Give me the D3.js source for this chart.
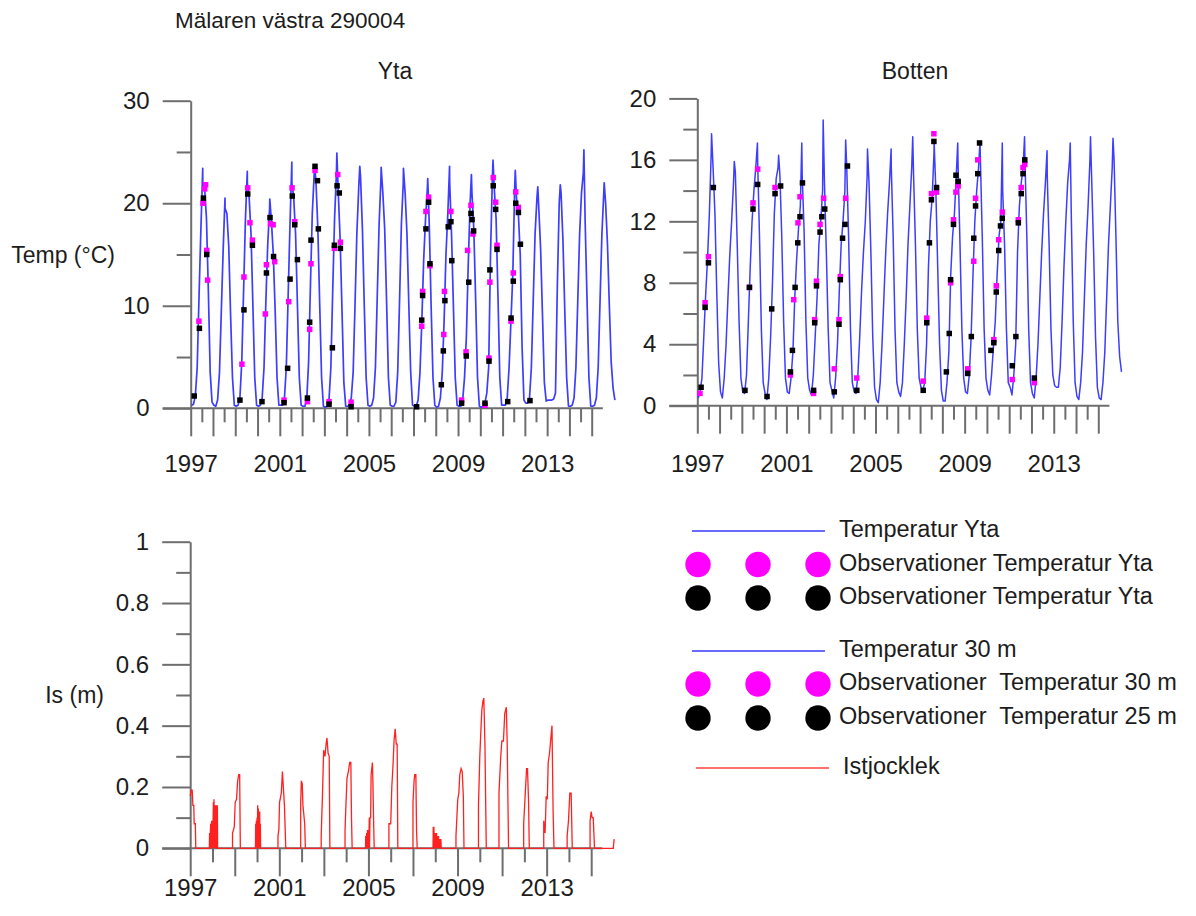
<!DOCTYPE html>
<html>
<head>
<meta charset="utf-8">
<script src="https://cdn.jsdelivr.net/npm/d3@7"></script>
<style>
  body { margin: 0; background: #fff; }
  text { font-family: "Liberation Sans", Arial, Helvetica, sans-serif; fill: #1c1c1c; }
  .axis path, .axis line { stroke: #6e6e6e; stroke-width: 2; }
</style>
</head>
<body>
<svg id="chart" width="1196" height="916"></svg>
<script>
// ---- calendar ----
const years = [1997, 1998, 1999, 2000, 2001, 2002, 2003, 2004, 2005, 2006,
               2007, 2008, 2009, 2010, 2011, 2012, 2013, 2014, 2015];
// mid-month positions as fraction of a year
const monthFrac = [0.042, 0.125, 0.208, 0.292, 0.375, 0.458, 0.542, 0.625, 0.708, 0.792, 0.875, 0.958];
const labelYears = [1997, 2001, 2005, 2009, 2013];

// ---- modelled surface temperature (°C), monthly values per year ----
const ytaMonthly = [
  [0.3, 0.4, 1.2, 4.0, 11.0, 17.5, 22.0, 21.5, 18.5, 11.5, 3.5, 0.6],
  [0.3, 0.2, 0.8, 3.5, 9.5, 15.5, 19.5, 19.0, 15.8, 9.0, 3.0, 0.3],
  [0.2, 0.3, 1.0, 4.5, 11.5, 18.5, 22.0, 20.5, 17.0, 10.0, 3.0, 0.3],
  [0.2, 0.3, 1.0, 4.0, 10.5, 16.0, 19.5, 18.2, 15.0, 9.5, 3.0, 0.3],
  [0.3, 0.3, 1.0, 4.0, 11.0, 18.0, 22.0, 20.5, 17.0, 10.0, 3.0, 0.3],
  [0.2, 0.2, 0.8, 4.5, 12.0, 19.0, 22.8, 22.0, 17.5, 10.0, 3.0, 0.2],
  [0.1, 0.2, 0.8, 4.0, 11.5, 18.5, 23.0, 21.0, 16.5, 9.5, 2.5, 0.2],
  [0.2, 0.3, 1.0, 3.5, 10.0, 17.0, 21.5, 22.5, 17.5, 10.0, 3.0, 0.3],
  [0.2, 0.3, 1.0, 4.0, 11.0, 18.0, 22.5, 21.0, 17.5, 10.5, 3.0, 0.3],
  [0.2, 0.2, 0.6, 3.5, 10.5, 18.0, 22.0, 21.0, 17.0, 10.0, 3.5, 0.3],
  [0.2, 0.2, 0.8, 3.5, 8.5, 14.5, 18.5, 21.5, 18.0, 10.0, 3.0, 0.3],
  [0.1, 0.2, 1.0, 3.5, 8.5, 15.0, 19.0, 22.0, 17.0, 10.0, 3.0, 0.3],
  [0.2, 0.2, 0.8, 3.0, 7.0, 14.0, 20.0, 21.0, 17.5, 10.5, 3.0, 0.2],
  [0.1, 0.2, 0.5, 1.5, 4.0, 15.0, 22.5, 21.5, 18.5, 11.0, 3.0, 0.3],
  [0.3, 0.3, 1.0, 4.0, 8.5, 13.0, 21.5, 20.5, 19.0, 15.0, 6.0, 0.8],
  [0.5, 0.5, 1.0, 4.0, 10.5, 17.0, 20.5, 19.5, 15.5, 9.0, 2.5, 0.7],
  [0.8, 0.8, 0.8, 0.9, 1.5, 12.0, 20.0, 21.0, 16.5, 9.5, 3.0, 0.2],
  [0.2, 0.3, 1.0, 4.0, 10.5, 17.0, 21.0, 23.0, 18.0, 10.5, 3.0, 0.2],
  [0.2, 0.3, 1.0, 4.0, 10.5, 17.0, 21.0, 20.0, 16.0, 10.0, 4.5, 2.0]
];
// summer maximum of each year: time within the year and value
const ytaPeakFrac = [0.54, 0.54, 0.54, 0.55, 0.54, 0.57, 0.56, 0.59, 0.55, 0.55,
                     0.64, 0.62, 0.60, 0.57, 0.57, 0.58, 0.59, 0.65, 0.56];
const ytaPeak = [23.4, 20.5, 23.1, 20.4, 24.0, 23.6, 24.9, 23.6, 23.5, 23.4,
                 22.4, 23.6, 22.8, 24.2, 23.2, 21.6, 21.8, 25.2, 22.0];
const ytaLastJan2016 = 0.8;

// ---- modelled bottom temperature (°C) ----
const bottenMonthly = [
  [0.5, 0.9, 1.8, 4.5, 7.2, 9.5, 12.5, 16.5, 15.5, 12.5, 7.3, 2.8],
  [0.9, 0.5, 1.8, 4.0, 7.0, 9.8, 12.0, 14.5, 15.2, 10.5, 5.5, 1.8],
  [0.9, 0.8, 2.0, 5.5, 9.0, 12.0, 14.0, 15.5, 16.0, 11.0, 5.0, 1.5],
  [0.8, 0.4, 1.8, 4.5, 8.0, 12.5, 14.8, 15.5, 15.0, 11.0, 5.5, 1.8],
  [0.9, 0.8, 1.8, 3.5, 7.0, 9.5, 11.5, 13.0, 15.0, 11.5, 5.5, 1.8],
  [1.0, 0.7, 2.0, 4.5, 7.0, 10.5, 12.0, 14.0, 14.5, 10.0, 5.0, 1.5],
  [1.0, 0.5, 1.8, 4.0, 7.5, 10.5, 12.0, 14.0, 15.5, 11.0, 5.0, 1.5],
  [0.9, 0.8, 2.0, 4.5, 7.5, 10.0, 12.0, 15.0, 14.5, 10.0, 4.5, 1.2],
  [0.4, 0.2, 1.5, 4.0, 7.0, 10.0, 12.5, 14.5, 15.5, 11.0, 5.0, 1.5],
  [0.9, 0.6, 1.5, 4.0, 7.0, 10.5, 13.0, 15.5, 15.0, 10.5, 5.0, 1.8],
  [1.2, 1.0, 1.5, 4.0, 9.0, 12.0, 13.5, 16.5, 14.0, 9.0, 4.0, 1.0],
  [0.3, 0.3, 1.5, 3.5, 8.5, 11.0, 12.5, 15.0, 15.5, 10.5, 5.0, 1.8],
  [0.9, 0.8, 2.0, 4.5, 8.5, 12.0, 14.0, 15.5, 16.0, 11.0, 5.0, 1.8],
  [1.0, 0.7, 2.0, 3.8, 5.5, 8.5, 11.0, 12.0, 14.0, 10.5, 5.0, 1.5],
  [1.2, 0.7, 2.0, 4.0, 10.0, 13.0, 14.5, 15.5, 16.0, 11.0, 5.0, 1.5],
  [0.8, 0.5, 1.8, 4.0, 7.0, 10.0, 12.5, 14.5, 15.0, 10.5, 5.0, 2.0],
  [1.3, 1.2, 1.2, 2.5, 5.5, 9.0, 12.0, 14.5, 16.0, 12.0, 5.5, 1.5],
  [0.6, 0.4, 1.5, 3.5, 7.0, 10.5, 13.0, 16.0, 14.5, 10.0, 4.5, 1.2],
  [0.5, 0.4, 1.5, 3.5, 7.0, 10.5, 13.0, 15.5, 16.0, 11.0, 5.5, 3.2]
];
const bottenPeakFrac = [0.64, 0.66, 0.70, 0.65, 0.69, 0.65, 0.66, 0.64, 0.70, 0.67,
                        0.63, 0.69, 0.69, 0.69, 0.69, 0.70, 0.74, 0.65, 0.66];
const bottenPeak = [17.7, 15.9, 17.1, 16.3, 17.1, 18.6, 17.3, 16.7, 16.7, 17.5,
                    17.2, 17.1, 17.2, 17.1, 17.5, 16.6, 17.1, 17.5, 17.4];
const bottenLastJan2016 = 2.2;

// ---- observations, surface [decimal year, °C] ----
const ytaObsA = [
  [1997.37, 8.5], [1997.55, 20.0], [1997.63, 21.4], [1997.67, 21.8], [1997.72, 15.4], [1997.76, 12.5],
  [1999.30, 4.3], [1999.39, 12.8], [1999.56, 21.5], [1999.66, 18.1], [1999.77, 16.4],
  [2000.35, 9.2], [2000.40, 14.0], [2000.58, 18.0], [2000.70, 17.9], [2000.77, 14.3],
  [2001.19, 0.8], [2001.40, 10.4], [2001.55, 21.5], [2001.67, 18.2],
  [2002.24, 0.65], [2002.34, 7.7], [2002.40, 14.1], [2002.58, 23.2],
  [2003.21, 0.65], [2003.45, 15.6], [2003.60, 22.8], [2003.72, 16.2],
  [2004.20, 0.6],
  [2007.37, 8.0], [2007.41, 11.4], [2007.56, 19.2], [2007.68, 20.6], [2007.74, 13.9],
  [2008.36, 7.2], [2008.39, 11.4], [2008.68, 19.2],
  [2009.16, 0.8], [2009.36, 5.5], [2009.43, 15.4], [2009.58, 19.8], [2009.67, 17.0],
  [2010.21, 0.3], [2010.39, 4.9], [2010.43, 12.3], [2010.58, 22.5], [2010.69, 20.1], [2010.75, 15.9],
  [2011.38, 8.5], [2011.48, 13.2], [2011.59, 21.1], [2011.71, 19.6]
];
const ytaObsB = [
  [1997.16, 1.2], [1997.39, 7.8], [1997.57, 20.5], [1997.72, 15.0],
  [1999.21, 0.8], [1999.39, 9.6], [1999.56, 20.9], [1999.77, 15.9],
  [2000.20, 0.65], [2000.40, 13.2], [2000.56, 18.6], [2000.72, 14.8],
  [2001.19, 0.55], [2001.35, 3.9], [2001.46, 12.6], [2001.56, 20.7], [2001.67, 17.9], [2001.79, 14.5],
  [2002.24, 1.0], [2002.34, 8.4], [2002.40, 16.4], [2002.58, 23.6], [2002.69, 22.2], [2002.73, 17.5],
  [2003.21, 0.4], [2003.36, 5.9], [2003.45, 15.9], [2003.57, 21.7], [2003.67, 21.0], [2003.72, 15.6],
  [2004.20, 0.15],
  [2007.14, 0.15], [2007.37, 8.6], [2007.41, 11.0], [2007.56, 17.5], [2007.68, 20.1], [2007.74, 14.1],
  [2008.25, 2.3], [2008.34, 5.6], [2008.41, 10.5], [2008.56, 17.7], [2008.68, 18.2], [2008.72, 14.4],
  [2009.16, 0.5], [2009.37, 5.1], [2009.48, 12.3], [2009.58, 19.0], [2009.63, 18.4], [2009.70, 17.3],
  [2010.21, 0.5], [2010.39, 4.6], [2010.43, 13.5], [2010.58, 21.7], [2010.69, 19.4], [2010.75, 15.5],
  [2011.23, 0.65], [2011.38, 8.8], [2011.48, 12.4], [2011.59, 20.0], [2011.71, 19.1], [2011.80, 16.0],
  [2012.23, 0.75]
];

// ---- observations, 30 m and 25 m [decimal year, °C] ----
const bottenObsA = [
  [1997.12, 0.8], [1997.35, 6.7], [1997.50, 9.7],
  [1999.34, 7.7], [1999.50, 13.2], [1999.71, 15.4],
  [2000.49, 14.2],
  [2001.18, 2.0], [2001.33, 6.9], [2001.52, 11.9], [2001.61, 13.6],
  [2002.22, 0.8], [2002.27, 5.6], [2002.35, 8.1], [2002.51, 11.8], [2002.67, 13.5],
  [2003.15, 2.4], [2003.36, 5.6], [2003.42, 8.4], [2003.66, 13.5],
  [2004.16, 1.8],
  [2007.14, 1.6], [2007.30, 5.7], [2007.51, 13.8], [2007.62, 17.7], [2007.74, 13.9],
  [2008.37, 8.0], [2008.50, 12.1], [2008.61, 13.9], [2008.71, 14.3],
  [2009.14, 2.4], [2009.41, 9.4], [2009.49, 13.5], [2009.59, 16.0],
  [2010.31, 4.3], [2010.42, 7.8], [2010.53, 10.8], [2010.69, 12.6],
  [2011.14, 1.7], [2011.41, 12.1], [2011.54, 14.2], [2011.62, 15.5], [2011.70, 15.7],
  [2012.13, 1.5]
];
const bottenObsB = [
  [1997.17, 1.2], [1997.35, 6.4], [1997.50, 9.3], [1997.72, 14.2],
  [1999.14, 1.0], [1999.34, 7.7], [1999.50, 12.8], [1999.71, 14.4],
  [2000.13, 0.6], [2000.34, 6.3], [2000.49, 13.8], [2000.74, 14.3],
  [2001.18, 2.2], [2001.27, 3.6], [2001.39, 7.7], [2001.51, 10.6], [2001.61, 12.3], [2001.72, 14.5],
  [2002.22, 1.0], [2002.27, 5.4], [2002.35, 7.8], [2002.51, 11.3], [2002.59, 12.3], [2002.72, 12.8],
  [2003.15, 0.9], [2003.36, 5.3], [2003.42, 8.2], [2003.52, 10.9], [2003.63, 11.8], [2003.74, 15.6],
  [2004.16, 1.0],
  [2007.14, 1.0], [2007.30, 5.4], [2007.42, 10.6], [2007.51, 13.4], [2007.62, 17.2], [2007.74, 14.2],
  [2008.18, 2.2], [2008.31, 4.7], [2008.37, 8.2], [2008.50, 11.8], [2008.61, 15.0], [2008.71, 14.6],
  [2009.14, 2.1], [2009.30, 4.5], [2009.41, 10.9], [2009.49, 13.0], [2009.59, 15.1], [2009.67, 17.1],
  [2010.18, 3.6], [2010.31, 4.1], [2010.42, 7.4], [2010.53, 10.1], [2010.61, 11.7], [2010.69, 12.2],
  [2011.14, 2.6], [2011.30, 4.5], [2011.41, 11.9], [2011.54, 13.8], [2011.62, 15.1], [2011.70, 16.0],
  [2012.13, 1.8]
];

// ---- modelled ice thickness (m) [decimal year, m] ----
const iceThickness = [
  [1997.00, 0.17], [1997.05, 0.19], [1997.09, 0.19], [1997.12, 0.14], [1997.16, 0.14], [1997.18, 0.08], [1997.23, 0.08], [1997.25, 0],
  [1997.86, 0], [1997.87, 0.05], [1997.88, 0], [1997.92, 0.08], [1997.93, 0], [1997.96, 0.09], [1997.97, 0],
  [1998.00, 0.09], [1998.01, 0], [1998.04, 0.15], [1998.05, 0], [1998.07, 0.16], [1998.08, 0], [1998.10, 0.14],
  [1998.11, 0], [1998.14, 0.14], [1998.15, 0], [1998.18, 0.14], [1998.19, 0], [1998.22, 0.14], [1998.23, 0],
  [1998.90, 0], [1998.90, 0.05], [1998.98, 0.07], [1999.02, 0.15], [1999.08, 0.16], [1999.13, 0.22], [1999.18, 0.24], [1999.22, 0.24], [1999.25, 0],
  [1999.93, 0], [1999.94, 0.08], [1999.95, 0], [1999.97, 0.09], [1999.98, 0], [2000.00, 0.10], [2000.01, 0],
  [2000.03, 0.14], [2000.04, 0], [2000.06, 0.13], [2000.07, 0], [2000.09, 0.12], [2000.10, 0], [2000.12, 0.12],
  [2000.13, 0], [2000.15, 0.08], [2000.16, 0],
  [2000.94, 0], [2000.94, 0.04], [2000.98, 0.06], [2001.01, 0.15], [2001.09, 0.18], [2001.14, 0.25], [2001.18, 0.20], [2001.23, 0.14], [2001.29, 0],
  [2001.96, 0], [2001.96, 0.15], [2001.99, 0.22], [2002.03, 0.21], [2002.06, 0.14], [2002.14, 0.08], [2002.17, 0],
  [2002.88, 0], [2002.88, 0.04], [2002.94, 0.18], [2002.99, 0.32], [2003.05, 0.30], [2003.10, 0.34], [2003.14, 0.36], [2003.19, 0.31], [2003.24, 0.30], [2003.27, 0],
  [2003.95, 0], [2003.95, 0.06], [2003.99, 0.14], [2004.04, 0.23], [2004.10, 0.25], [2004.16, 0.28], [2004.21, 0.28], [2004.24, 0.10], [2004.27, 0],
  [2004.87, 0], [2004.88, 0.04], [2004.89, 0], [2004.92, 0.05], [2004.93, 0], [2004.96, 0.06], [2004.97, 0],
  [2005.00, 0.06], [2005.01, 0], [2005.04, 0.10], [2005.05, 0], [2005.07, 0.10], [2005.10, 0.10], [2005.12, 0.24],
  [2005.15, 0.26], [2005.18, 0.28], [2005.20, 0.22], [2005.23, 0.10], [2005.26, 0],
  [2005.92, 0], [2005.92, 0.08], [2006.00, 0.08], [2006.05, 0.20], [2006.11, 0.28], [2006.15, 0.35], [2006.20, 0.39], [2006.25, 0.34], [2006.29, 0.34], [2006.32, 0],
  [2007.00, 0], [2007.00, 0.15], [2007.05, 0.22], [2007.08, 0.24], [2007.13, 0.24], [2007.16, 0.06], [2007.19, 0],
  [2007.90, 0], [2007.91, 0.07], [2007.92, 0], [2007.94, 0.07], [2007.95, 0], [2007.98, 0.05], [2007.99, 0],
  [2008.02, 0.05], [2008.03, 0], [2008.06, 0.05], [2008.07, 0], [2008.10, 0.04], [2008.11, 0], [2008.15, 0.04],
  [2008.16, 0], [2008.20, 0.03], [2008.21, 0], [2008.25, 0.03], [2008.27, 0],
  [2008.93, 0], [2008.93, 0.04], [2009.01, 0.16], [2009.06, 0.18], [2009.10, 0.24], [2009.16, 0.26], [2009.21, 0.25], [2009.26, 0.17], [2009.29, 0],
  [2009.94, 0], [2009.94, 0.14], [2010.00, 0.30], [2010.04, 0.37], [2010.09, 0.45], [2010.14, 0.48], [2010.18, 0.49], [2010.23, 0.34], [2010.29, 0],
  [2010.86, 0], [2010.86, 0.18], [2010.94, 0.30], [2010.99, 0.35], [2011.06, 0.35], [2011.12, 0.44], [2011.19, 0.46], [2011.23, 0.34], [2011.29, 0],
  [2011.97, 0], [2011.97, 0.08], [2012.04, 0.18], [2012.10, 0.26], [2012.14, 0.26], [2012.19, 0.15], [2012.22, 0],
  [2012.87, 0], [2012.87, 0.09], [2012.93, 0.05], [2012.98, 0.17], [2013.03, 0.16], [2013.07, 0.28], [2013.13, 0.31], [2013.19, 0.36], [2013.24, 0.40], [2013.29, 0.12], [2013.33, 0],
  [2013.92, 0], [2013.92, 0.04], [2013.98, 0.09], [2014.04, 0.18], [2014.10, 0.18], [2014.15, 0],
  [2014.95, 0], [2014.95, 0.09], [2015.00, 0.12], [2015.04, 0.10], [2015.09, 0.10], [2015.12, 0.05], [2015.15, 0],
  [2015.99, 0], [2016.03, 0.03]
];

// ---- drawing ----
const svg = d3.select("#chart");
const AXIS_COLOR = "#6e6e6e";
const LINE_BLUE = "#3d3dff";
const MAGENTA = "#ff00ff";
const MAJOR = 28, MINOR = 14;
const TICK_FONT = "24px";

function buildSeries(monthly, peakFrac, peakVal, tailValue) {
  const pts = [];
  years.forEach((yr, i) => {
    monthly[i].forEach((v, m) => pts.push([yr + monthFrac[m], v]));
    pts.push([yr + peakFrac[i], peakVal[i]]);
  });
  pts.push([2016 + monthFrac[0], tailValue]);
  return pts.sort((a, b) => a[0] - b[0]);
}

function drawYAxis(g, x0, y, major, minor, fmt) {
  const holder = g.append("g").attr("transform", `translate(${x0},0)`);
  holder.append("g").attr("class", "axis")
    .call(d3.axisLeft(y).tickValues(minor).tickSize(MINOR).tickSizeOuter(0).tickFormat(""))
    .call(s => s.select(".domain").remove());
  const ax = holder.append("g").attr("class", "axis")
    .call(d3.axisLeft(y).tickValues(major).tickSize(MAJOR).tickSizeOuter(0).tickPadding(13).tickFormat(fmt));
  ax.selectAll("text").style("font-size", TICK_FONT).attr("fill", "#1c1c1c");
}

function drawXAxis(g, x, y0, longTicks, shortTicks, xEnd, labelPad) {
  g.append("line")
    .attr("x1", x(years[0]) - MAJOR).attr("x2", x(xEnd))
    .attr("y1", y0).attr("y2", y0)
    .attr("stroke", AXIS_COLOR).attr("stroke-width", 2);
  const base = g.append("g").attr("transform", `translate(0,${y0})`);
  base.append("g").attr("class", "axis")
    .call(d3.axisBottom(x).tickValues(shortTicks).tickSize(MINOR).tickSizeOuter(0).tickFormat(""))
    .call(s => s.select(".domain").remove());
  const ax = base.append("g").attr("class", "axis")
    .call(d3.axisBottom(x).tickValues(longTicks).tickSize(MAJOR).tickSizeOuter(0).tickPadding(labelPad)
      .tickFormat(d => labelYears.includes(d) ? String(d) : ""))
    .call(s => s.select(".domain").remove());
  ax.selectAll("text").style("font-size", TICK_FONT).attr("fill", "#1c1c1c");
}

function drawObs(g, x, y, data, color, size) {
  g.selectAll(null).data(data).enter().append("rect")
    .attr("x", d => x(d[0]) - size / 2)
    .attr("y", d => y(d[1]) - size / 2)
    .attr("width", size).attr("height", size)
    .attr("fill", color);
}

const halfYears = years.slice(0, -1).map(yr => yr + 0.5);

// --- Yta panel ---
const xYta = d3.scaleLinear().domain([1997, 2015]).range([190.7, 591.7]);
const yYta = d3.scaleLinear().domain([0, 30]).range([408.3, 100.7]);
const gYta = svg.append("g");
drawXAxis(gYta, xYta, yYta(0), years, halfYears, 2015.5, 19);
drawYAxis(gYta, xYta(1997), yYta, [0, 10, 20, 30], [5, 15, 25], d3.format("d"));
const ytaSeries = buildSeries(ytaMonthly, ytaPeakFrac, ytaPeak, ytaLastJan2016);
gYta.append("path").datum(ytaSeries)
  .attr("fill", "none").attr("stroke", LINE_BLUE).attr("stroke-width", 1.7)
  .attr("stroke-linejoin", "round")
  .attr("d", d3.line().x(d => xYta(d[0])).y(d => yYta(d[1])));
drawObs(gYta, xYta, yYta, ytaObsA, MAGENTA, 5.5);
drawObs(gYta, xYta, yYta, ytaObsB, "#000", 5.5);
gYta.append("text").attr("x", 395).attr("y", 73).attr("text-anchor", "middle")
  .attr("dominant-baseline", "middle").style("font-size", "23px").text("Yta");
gYta.append("text").attr("x", 115).attr("y", 257).attr("text-anchor", "end")
  .attr("dominant-baseline", "middle").style("font-size", "23px").text("Temp (°C)");

// --- Botten panel ---
const xBot = d3.scaleLinear().domain([1997, 2015]).range([697.3, 1098.3]);
const yBot = d3.scaleLinear().domain([0, 20]).range([405.7, 98.4]);
const gBot = svg.append("g");
drawXAxis(gBot, xBot, yBot(0), years, halfYears, 2015.5, 21);
drawYAxis(gBot, xBot(1997), yBot, [0, 4, 8, 12, 16, 20], [2, 6, 10, 14, 18], d3.format("d"));
const botSeries = buildSeries(bottenMonthly, bottenPeakFrac, bottenPeak, bottenLastJan2016);
gBot.append("path").datum(botSeries)
  .attr("fill", "none").attr("stroke", LINE_BLUE).attr("stroke-width", 1.5)
  .attr("stroke-linejoin", "round")
  .attr("d", d3.line().x(d => xBot(d[0])).y(d => yBot(d[1])));
drawObs(gBot, xBot, yBot, bottenObsA, MAGENTA, 5.5);
drawObs(gBot, xBot, yBot, bottenObsB, "#000", 5.5);
gBot.append("text").attr("x", 915).attr("y", 73).attr("text-anchor", "middle")
  .attr("dominant-baseline", "middle").style("font-size", "23px").text("Botten");

// --- Ice panel ---
const xIce = d3.scaleLinear().domain([1997, 2015]).range([190.2, 591.2]);
const yIce = d3.scaleLinear().domain([0, 1]).range([848.3, 541.7]);
const gIce = svg.append("g");
const oddYears = years.filter(yr => yr % 2 === 1);
const evenYears = years.filter(yr => yr % 2 === 0);
drawXAxis(gIce, xIce, yIce(0), oddYears, evenYears, 2015.5, 3);
drawYAxis(gIce, xIce(1997), yIce, [0, 0.2, 0.4, 0.6, 0.8, 1], [0.1, 0.3, 0.5, 0.7, 0.9],
  d => d === 0 || d === 1 ? String(d) : d3.format(".1f")(d));
gIce.append("path").datum(iceThickness)
  .attr("fill", "none").attr("stroke", "#ff2020").attr("stroke-width", 1.3)
  .attr("d", d3.line().x(d => xIce(d[0])).y(d => yIce(d[1])));
gIce.append("text").attr("x", 104).attr("y", 697).attr("text-anchor", "end")
  .attr("dominant-baseline", "middle").style("font-size", "23px").text("Is (m)");

// --- heading ---
svg.append("text").attr("x", 175).attr("y", 22).attr("dominant-baseline", "middle")
  .style("font-size", "22.5px").text("Mälaren västra 290004");

// --- legend ---
const legendRows = [
  { kind: "line", y: 531, color: "#6a6aff", label: "Temperatur Yta" },
  { kind: "dots", y: 564.5, color: MAGENTA, label: "Observationer Temperatur Yta" },
  { kind: "dots", y: 598, color: "#000", label: "Observationer Temperatur Yta" },
  { kind: "line", y: 651, color: "#6a6aff", label: "Temperatur 30 m" },
  { kind: "dots", y: 684, color: MAGENTA, label: "Observationer  Temperatur 30 m" },
  { kind: "dots", y: 718, color: "#000", label: "Observationer  Temperatur 25 m" },
  { kind: "line", y: 768, color: "#ff7070", label: "Istjocklek", shift: 4 }
];
const gLeg = svg.append("g");
legendRows.forEach(r => {
  const dx = r.shift || 0;
  if (r.kind === "line") {
    gLeg.append("line").attr("x1", 692 + dx).attr("x2", 825 + dx).attr("y1", r.y).attr("y2", r.y)
      .attr("stroke", r.color).attr("stroke-width", 2);
  } else {
    [698, 758, 818].forEach(cx => gLeg.append("circle").attr("cx", cx).attr("cy", r.y).attr("r", 12.7).attr("fill", r.color));
  }
  gLeg.append("text").attr("x", 839 + dx).attr("y", r.y).attr("dominant-baseline", "middle")
    .style("font-size", "23.5px").style("white-space", "pre").text(r.label);
});
</script>
</body>
</html>
